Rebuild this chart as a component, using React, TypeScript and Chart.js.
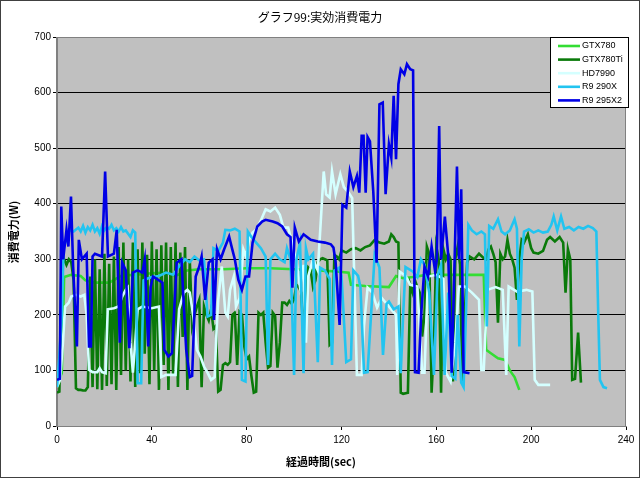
import React, { useEffect, useRef } from "react";
import { Chart, registerables } from "chart.js";
Chart.register(...registerables);

const chartTitle = "グラフ99:実効消費電力";
const xAxisTitle = "経過時間(sec)";
const yAxisTitle = "消費電力(W)";
const seriesNames = ["GTX780", "GTX780Ti", "HD7990", "R9 290X", "R9 295X2"];
const seriesColors = ["#33dd33", "#0a7a0a", "#d4ffff", "#22c4f0", "#0000e6"];
const xTicks = [0, 40, 80, 120, 160, 200, 240];
const yTicks = [0, 100, 200, 300, 400, 500, 600, 700];

const gtx780Time = [0, 2, 3, 6, 10, 12, 16, 22, 27, 32, 40, 46, 50, 55, 60, 70, 80, 90, 100, 110, 118, 123, 124, 130, 140, 143, 146, 150, 156, 160, 170, 180, 181, 183, 186, 189, 191, 193, 195];
const gtx780Watts = [75, 95, 268, 272, 270, 262, 258, 258, 270, 272, 275, 276, 270, 280, 282, 282, 284, 284, 282, 280, 278, 276, 254, 252, 250, 270, 266, 268, 272, 272, 272, 272, 137, 131, 122, 119, 100, 88, 65];

const gtx780TiTime = [0, 1, 2, 3, 4, 5, 6, 7, 8, 9, 10, 11, 12, 13, 14, 15, 16, 17, 18, 19, 20, 21, 22, 23, 24, 25, 26, 27, 28, 29, 30, 31, 32, 33, 34, 35, 36, 37, 38, 39, 40, 41, 42, 43, 44, 45, 46, 47, 48, 49, 50, 51, 52, 53, 54, 55, 56, 57, 58, 59, 60, 61, 62, 63, 64, 65, 66, 67, 68, 69, 70, 71, 72, 73, 74, 75, 76, 77, 78, 79, 80, 81, 82, 83, 84, 85, 86, 87, 88, 89, 90, 91, 92, 93, 94, 95, 96, 97, 98, 99, 100, 101, 102, 103, 104, 105, 106, 107, 108, 109, 110, 111, 112, 113, 114, 115, 116, 117, 118, 119, 120, 122, 124, 126, 128, 130, 132, 134, 136, 138, 140, 141, 142, 143, 144, 145, 146, 148, 149, 150, 151, 152, 153, 154, 155, 156, 157, 158, 159, 160, 161, 162, 163, 164, 165, 166, 167, 168, 169, 170, 171, 172, 173, 174, 176, 178, 180, 181, 182, 183, 184, 185, 186, 187, 188, 189, 190, 191, 192, 193, 194, 195, 196, 197, 198.6, 200, 201, 203, 205, 206.7, 208, 210, 212, 213.5, 214.5, 215.5, 216.5, 217.3, 218.5, 219.8, 221];
const gtx780TiWatts = [60, 62, 312, 300, 290, 300, 295, 262, 68, 65, 65, 64, 64, 70, 269, 70, 300, 66, 282, 65, 310, 72, 292, 75, 305, 65, 322, 92, 330, 100, 300, 80, 330, 70, 318, 95, 330, 130, 308, 75, 332, 100, 318, 65, 325, 110, 330, 65, 322, 90, 330, 70, 312, 160, 322, 65, 300, 180, 200, 215, 227, 70, 215, 200, 190, 210, 175, 180, 62, 65, 110, 113, 110, 115, 200, 204, 110, 205, 200, 143, 120, 125, 90, 60, 62, 204, 200, 204, 150, 105, 108, 204, 198, 105, 150, 222, 222, 218, 225, 220, 228, 254, 250, 240, 164, 250, 285, 280, 250, 262, 295, 300, 302, 300, 298, 146, 150, 308, 305, 300, 316, 312, 318, 320, 316, 322, 325, 335, 330, 328, 332, 345, 340, 332, 330, 60, 58, 60, 254, 240, 262, 250, 240, 161, 200, 323, 310, 60, 150, 323, 300, 60, 318, 300, 310, 300, 80, 300, 323, 290, 77, 200, 294, 305, 300, 310, 302, 300, 318, 323, 310, 295, 186, 310, 300, 305, 335, 310, 300, 285, 227, 300, 335, 330, 345, 320, 312, 310, 315, 335, 340, 332, 340, 330, 240, 318, 300, 83, 85, 168, 78];

const hd7990Time = [0, 1.3, 2.5, 3.4, 5, 6, 8, 10, 11.5, 12.5, 13.5, 15, 17, 18, 19, 20.5, 21.4, 24, 26, 27.5, 29, 29.8, 31, 32, 33, 34, 36, 40, 43, 44, 46, 50, 51.5, 53.5, 55, 56, 57.5, 59, 60.5, 62, 63.5, 65, 66.5, 67.3, 68, 69.5, 71, 72, 73, 74.6, 75.5, 77, 78.6, 79.7, 81, 82.5, 84, 86, 88, 90, 92, 94, 95.5, 97.5, 99, 101, 102.5, 104, 105, 106, 108, 110, 111, 112.5, 113.5, 115, 116, 117.5, 119.5, 121, 123, 124.5, 125.5, 126.5, 128.5, 129.5, 131, 133, 135, 137, 139, 141, 143, 143.5, 144.5, 147, 149, 152, 154, 155, 156.5, 160, 163, 164, 166, 168, 169.5, 172, 175, 178, 179, 180, 181.5, 185, 188, 189.5, 190.5, 194, 198, 200.5, 201.5, 203, 206, 208];
const hd7990Watts = [70, 83, 150, 215, 222, 233, 236, 233, 236, 200, 101, 97, 97, 104, 97, 95, 210, 212, 215, 233, 245, 249, 150, 96, 150, 210, 215, 212, 215, 88, 92, 92, 210, 240, 245, 240, 197, 137, 125, 107, 96, 83, 88, 173, 227, 287, 204, 197, 245, 269, 215, 230, 318, 305, 335, 348, 353, 370, 390, 386, 393, 380, 357, 357, 332, 296, 250, 290, 150, 270, 300, 280, 350, 458, 417, 411, 458, 417, 453, 430, 420, 410, 250, 92, 92, 180, 249, 240, 213, 230, 220, 210, 200, 92, 278, 270, 254, 251, 96, 96, 269, 272, 265, 96, 80, 150, 251, 251, 240, 227, 101, 101, 245, 250, 245, 92, 251, 242, 245, 242, 83, 74, 74, 74];

const r9290xTime = [0, 1, 2, 2.8, 4, 5, 7, 9, 10, 11, 12, 13, 14, 15, 16, 17, 18, 19, 20, 21, 22, 23, 24, 25, 26, 27, 28, 29, 30, 31, 32, 33, 34, 35.5, 36.5, 38, 40, 43, 46, 49, 52, 54, 56, 58, 60, 62, 63.5, 65, 66, 68, 70, 71, 73, 75, 77, 78, 79.5, 80.5, 82, 84, 86, 88, 89, 90, 92, 94, 96, 97, 98.5, 100, 101, 102.5, 104, 105, 106, 108, 110, 111, 113, 115, 116, 117, 119, 120, 122, 124, 125, 127, 128, 129.5, 131, 134, 136, 137.5, 139, 140, 142, 144, 145, 146, 147, 150, 152, 153.5, 155, 157, 159, 160.5, 162, 163.5, 165, 166.5, 168, 169, 170.5, 171.5, 172.5, 173.5, 175, 177, 179, 180.5, 181.3, 182.3, 184, 186, 187.5, 189, 191, 193, 194, 195, 196, 197, 199, 201, 203, 205, 207, 208.5, 209.5, 211, 212.6, 214, 216, 218, 220, 222, 224, 226, 227.5, 228.3, 229, 230.5, 232];
const r9290xWatts = [70, 125, 197, 323, 335, 353, 350, 357, 350, 360, 348, 358, 352, 362, 350, 356, 346, 360, 352, 358, 355, 362, 352, 356, 350, 358, 350, 352, 346, 340, 352, 348, 77, 77, 262, 265, 268, 270, 276, 272, 290, 300, 295, 305, 298, 300, 197, 200, 320, 315, 330, 353, 352, 355, 350, 83, 80, 350, 340, 330, 320, 305, 110, 300, 310, 300, 295, 320, 300, 92, 300, 330, 95, 320, 300, 310, 115, 285, 280, 265, 110, 280, 285, 270, 115, 120, 280, 270, 250, 96, 97, 308, 285, 128, 220, 224, 210, 215, 95, 200, 286, 278, 268, 300, 290, 240, 92, 270, 290, 92, 240, 90, 85, 200, 78, 70, 200, 362, 352, 345, 350, 345, 179, 360, 355, 372, 350, 345, 352, 372, 355, 143, 300, 350, 354, 348, 352, 348, 350, 362, 377, 352, 377, 355, 358, 352, 358, 355, 360, 356, 350, 200, 83, 70, 68];

const r9295x2Time = [0, 1.2, 1.8, 2.6, 4, 4.8, 5.9, 6.8, 8.4, 9.2, 10.5, 12.5, 13.5, 14.3, 15, 16, 19, 20.3, 21.5, 24, 25.2, 26.5, 27.5, 29, 30.5, 32, 34, 36, 37, 38.5, 39.5, 40.5, 43, 44.5, 45.3, 47, 48.5, 50.5, 52.5, 53.5, 54.5, 56, 57, 58.5, 60, 61, 62.5, 64, 65.6, 66.2, 67.5, 69, 70.5, 72.6, 73.8, 75, 76.5, 78, 79.5, 81, 82.5, 84.5, 86.5, 88, 91, 93, 95, 97, 98.5, 99.3, 100.3, 102, 104, 107, 110, 113, 115.5, 116.6, 117.5, 119.2, 120.4, 122, 123.5, 125, 126.5, 127.5, 128.5, 129.3, 130.2, 131, 132, 133.4, 134.8, 136, 137.4, 138.6, 140, 141, 142, 143, 144, 145, 146.5, 147.6, 149, 150.2, 151, 152.5, 153.6, 155, 156.5, 158, 159.5, 160.2, 161.2, 162, 163.6, 165, 166.5, 168.7, 169.6, 170.5, 171.5, 174];
const r9295x2Watts = [83, 85, 395, 300, 353, 323, 413, 287, 143, 335, 300, 310, 143, 143, 305, 310, 305, 458, 305, 310, 353, 150, 294, 280, 140, 276, 280, 276, 300, 143, 250, 269, 262, 258, 137, 125, 131, 294, 300, 215, 137, 88, 90, 269, 287, 305, 227, 294, 300, 191, 318, 300, 318, 341, 320, 300, 263, 245, 269, 269, 330, 359, 368, 371, 368, 365, 359, 345, 340, 249, 357, 332, 345, 335, 332, 330, 327, 321, 296, 182, 398, 393, 458, 430, 450, 420, 522, 522, 420, 520, 512, 422, 294, 579, 582, 417, 507, 483, 594, 480, 615, 642, 633, 651, 642, 640, 97, 96, 200, 287, 269, 323, 278, 300, 540, 300, 377, 308, 96, 467, 300, 426, 97, 95];

const seriesTimes = [gtx780Time, gtx780TiTime, hd7990Time, r9290xTime, r9295x2Time];
const seriesWatts = [gtx780Watts, gtx780TiWatts, hd7990Watts, r9290xWatts, r9295x2Watts];

const decorPlugin = {
  id: "decor",
  beforeDraw(chart: any) {
    const { ctx, chartArea } = chart;
    ctx.save();
    ctx.fillStyle = "#ffffff";
    ctx.fillRect(0, 0, chart.width, chart.height);
    ctx.fillStyle = "#c0c0c0";
    ctx.fillRect(chartArea.left, chartArea.top, chartArea.right - chartArea.left, chartArea.bottom - chartArea.top);
    ctx.restore();
  },
  afterDraw(chart: any) {
    const { ctx, chartArea } = chart;
    ctx.save();
    ctx.strokeStyle = "#808080";
    ctx.lineWidth = 1;
    ctx.strokeRect(chartArea.left - 0.5, chartArea.top + 0.5, chartArea.right - chartArea.left, chartArea.bottom - chartArea.top);
    ctx.strokeStyle = "#404040";
    ctx.strokeRect(0.5, 0.5, chart.width - 1, chart.height - 1);
    ctx.fillStyle = "#000";
    ctx.textAlign = "center";
    ctx.textBaseline = "middle";
    ctx.font = "12px 'Noto Sans CJK JP'";
    ctx.fillText(chartTitle, 320, 17);
    ctx.font = "bold 11px 'Noto Sans CJK JP'";
    ctx.fillText(xAxisTitle, 321, 462);
    ctx.save();
    ctx.translate(14, 232);
    ctx.rotate(-Math.PI / 2);
    ctx.fillText(yAxisTitle, 0, 0);
    ctx.restore();
    const lx = 550, ly = 37, lw = 78, lh = 70;
    ctx.fillStyle = "#ffffff";
    ctx.fillRect(lx, ly, lw, lh);
    ctx.strokeStyle = "#000";
    ctx.strokeRect(lx + 0.5, ly + 0.5, lw, lh);
    ctx.font = "9px 'Liberation Sans'";
    ctx.textAlign = "left";
    seriesNames.forEach((name, i) => {
      const y = ly + 9 + i * 13.6;
      ctx.strokeStyle = seriesColors[i];
      ctx.lineWidth = 2.6;
      ctx.beginPath();
      ctx.moveTo(558, y);
      ctx.lineTo(580, y);
      ctx.stroke();
      ctx.fillStyle = "#000";
      ctx.fillText(name, 582, y);
    });
    ctx.restore();
  },
};

export default function App() {
  const ref = useRef<HTMLCanvasElement>(null);
  useEffect(() => {
    const datasets = seriesNames.map((name, i) => ({
      label: name,
      data: seriesTimes[i].map((t, j) => ({ x: t, y: seriesWatts[i][j] })),
      borderColor: seriesColors[i],
      backgroundColor: seriesColors[i],
      borderWidth: 2.6,
      pointRadius: 0,
      tension: 0,
      fill: false,
      order: seriesNames.length - i,
    }));
    const chart = new Chart(ref.current as HTMLCanvasElement, {
      type: "line",
      data: { datasets },
      options: {
        animation: false,
        responsive: false,
        layout: { padding: { left: 0, top: 37, right: 14, bottom: 0 } },
        plugins: { legend: { display: false }, title: { display: false }, tooltip: { enabled: false } },
        scales: {
          x: {
            type: "linear",
            min: 0,
            max: 240,
            afterBuildTicks: (s: any) => { s.ticks = xTicks.map((v) => ({ value: v })); },
            afterFit: (s: any) => { s.height = 52; },
            grid: { drawOnChartArea: false, drawTicks: true, tickLength: 4, color: "#000" },
            border: { display: true, color: "#808080" },
            ticks: { color: "#000", font: { family: "'Liberation Sans'", size: 10 }, padding: 4, maxRotation: 0 },
          },
          y: {
            min: 0,
            max: 700,
            afterBuildTicks: (s: any) => { s.ticks = yTicks.map((v) => ({ value: v })); },
            afterFit: (s: any) => { s.width = 57; },
            grid: { color: "#000", lineWidth: 1, tickLength: 4 },
            border: { display: true, color: "#808080" },
            ticks: { color: "#000", font: { family: "'Liberation Sans'", size: 10 }, padding: 2 },
          },
        },
      },
      plugins: [decorPlugin],
    });
    return () => chart.destroy();
  }, []);
  return (
    <div style={{ position: "fixed", left: 0, top: 0, width: 640, height: 478 }}>
      <canvas ref={ref} width={640} height={478} style={{ width: 640, height: 478 }} />
    </div>
  );
}
